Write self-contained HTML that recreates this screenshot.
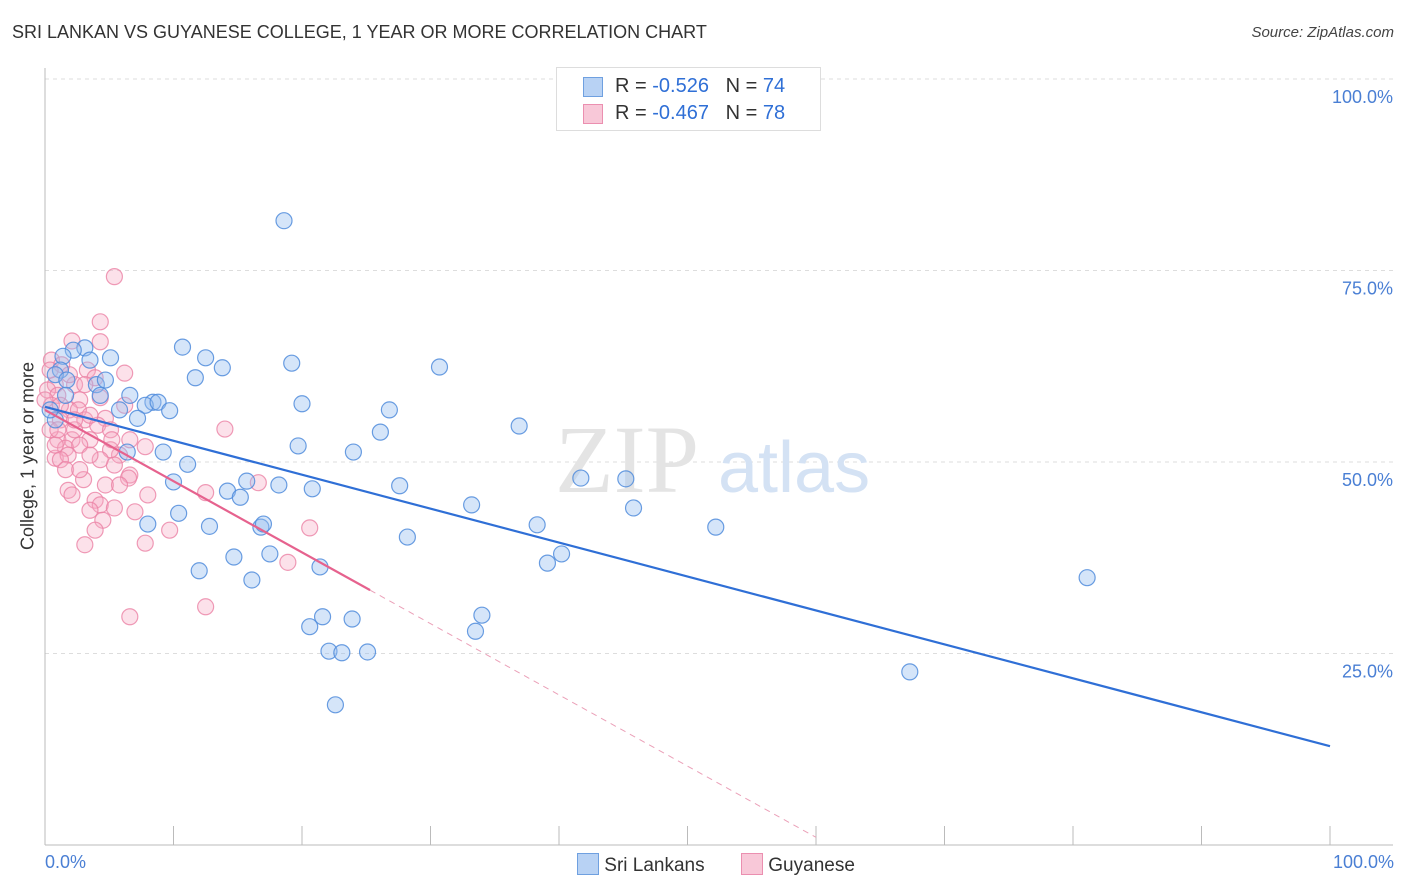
<!DOCTYPE html>
<html><head><meta charset="utf-8"><style>
body{margin:0;background:#fff;font-family:"Liberation Sans",sans-serif}
#wrap{position:relative;width:1406px;height:892px;overflow:hidden}
.t{position:absolute;white-space:nowrap}
</style></head><body>
<div id="wrap">
<div class="t" style="left:12px;top:22px;font-size:18px;color:#333">SRI LANKAN VS GUYANESE COLLEGE, 1 YEAR OR MORE CORRELATION CHART</div>
<div class="t" style="right:12px;top:24px;font-size:15px;color:#444;font-style:italic">Source: ZipAtlas.com</div>
<svg id="svg" width="1406" height="892" style="position:absolute;left:0;top:0"></svg>
</div>
<script>
const blueX=[18.6,10.7,12.5,19.2,13.8,11.7,30.7,5.1,3.1,2.2,1.4,3.5,1.2,0.8,1.7,4.0,4.7,6.6,4.3,8.4,7.8,8.8,9.7,5.8,7.2,20.0,26.8,26.1,36.9,19.7,24.0,9.2,6.4,11.1,10.0,14.2,15.2,15.7,18.2,20.8,27.6,41.7,45.2,33.2,45.8,38.3,52.2,8.0,10.4,12.8,16.8,17.0,28.2,14.7,17.5,40.2,39.1,12.0,16.1,21.4,81.1,21.6,23.9,34.0,20.6,33.5,22.1,23.1,25.1,67.3,22.6,0.8,0.4,1.6];
const blueY=[81.5,65.0,63.6,62.9,62.3,61.0,62.4,63.6,64.9,64.6,63.8,63.3,62.0,61.4,60.7,60.1,60.7,58.7,58.7,57.8,57.4,57.8,56.7,56.8,55.7,57.6,56.8,53.9,54.7,52.1,51.3,51.3,51.3,49.7,47.4,46.2,45.4,47.5,47.0,46.5,46.9,47.9,47.8,44.4,44.0,41.8,41.5,41.9,43.3,41.6,41.5,41.9,40.2,37.6,38.0,38.0,36.8,35.8,34.6,36.3,34.9,29.8,29.5,30.0,28.5,27.9,25.3,25.1,25.2,22.6,18.3,55.5,56.8,58.7];
const pinkX=[5.4,4.3,2.1,4.3,0.5,1.3,3.3,6.2,0.8,2.3,3.9,0.2,1.0,2.7,4.3,0.5,1.9,2.6,4.7,6.2,1.2,3.1,4.1,5.1,14.0,1.0,2.1,3.5,1.6,2.7,7.8,5.8,0.8,1.8,5.4,6.6,6.5,16.6,8.0,12.5,3.0,1.8,2.1,3.9,4.3,5.4,3.5,7.0,4.5,9.7,20.6,3.9,3.1,7.8,18.9,12.5,6.6,1.2,0.4,2.3,3.5,5.1,1.6,4.7,5.8,0.8,4.3,2.7,0.0,1.2,5.2,1.9,3.1,1.0,3.5,6.6,0.4,2.3];
const pinkY=[74.2,68.3,65.8,65.7,63.3,62.7,62.0,61.6,60.1,60.1,61.0,59.4,58.7,58.1,58.4,57.4,56.8,56.8,55.7,57.4,55.5,55.5,54.8,54.2,54.3,52.9,52.9,52.9,51.8,52.2,52.0,50.9,50.5,50.9,49.6,48.3,47.9,47.3,45.7,46.0,47.7,46.3,45.7,45.0,44.4,44.0,43.7,43.5,42.4,41.1,41.4,41.1,39.2,39.4,36.9,31.1,29.8,50.3,54.2,54.2,56.1,51.6,49.0,47.0,47.0,52.2,50.3,49.0,58.1,57.4,52.9,61.4,60.1,54.2,50.9,52.9,62.0,55.5];
const blueTrend=[57.2,12.9];
const pinkTrend=[56.8,-0.93,25.3,60];
const yTicks=[25,50,75,100];
const NS="http://www.w3.org/2000/svg";
const svg=document.getElementById('svg');
const X=v=>45+v*12.85, Y=v=>845-v*7.66;
function mk(t,a,name){const e=document.createElementNS(NS,t);for(const k in a)e.setAttribute(k,a[k]);


svg.appendChild(e);return e;}
yTicks.forEach(v=>{mk('line',{x1:45,x2:1393,y1:Y(v),y2:Y(v),stroke:'#ddd','stroke-dasharray':'4,4'},'gridline');
const t=mk('text',{x:1393,y:Y(v)+24,'text-anchor':'end','font-size':18,fill:'#4a7fd4','font-family':'Liberation Sans'},'y-tick-label');t.textContent=v.toFixed(1)+'%';});
mk('line',{x1:45,x2:45,y1:68,y2:845,stroke:'#bbb'},'y-axis');
mk('line',{x1:45,x2:1393,y1:845,y2:845,stroke:'#bbb'},'x-axis');
for(let i=0;i<=10;i++)mk('line',{x1:X(i*10),x2:X(i*10),y1:826,y2:845,stroke:'#bbb'},'x-tick');
const w1=mk('text',{x:555,y:492,'font-size':96,fill:'#e4e4e4','font-family':'Liberation Serif'},'watermark-zip');w1.textContent='ZIP';
const w2=mk('text',{x:718,y:492,'font-size':72,fill:'#d4e2f4','font-family':'Liberation Sans'},'watermark-atlas');w2.textContent='atlas';
pinkX.forEach((v,i)=>mk('circle',{cx:X(v),cy:Y(pinkY[i]),r:8,fill:'rgba(245,170,195,0.35)',stroke:'rgba(235,130,165,0.8)','stroke-width':1.2},'guyanese-point'));
blueX.forEach((v,i)=>mk('circle',{cx:X(v),cy:Y(blueY[i]),r:8,fill:'rgba(150,190,240,0.4)',stroke:'rgba(80,140,220,0.85)','stroke-width':1.2},'sri-lankan-point'));
mk('line',{x1:X(0),y1:Y(blueTrend[0]),x2:X(100),y2:Y(blueTrend[1]),stroke:'#2f6fd6','stroke-width':2.2},'sri-lankan-trendline');
const pe=pinkTrend[0]+pinkTrend[1]*pinkTrend[2], pd=pinkTrend[0]+pinkTrend[1]*pinkTrend[3];
mk('line',{x1:X(0),y1:Y(pinkTrend[0]),x2:X(pinkTrend[2]),y2:Y(pe),stroke:'#e6628e','stroke-width':2.2},'guyanese-trendline');
mk('line',{x1:X(pinkTrend[2]),y1:Y(pe),x2:X(pinkTrend[3]),y2:Y(pd),stroke:'#eba0b8','stroke-width':1,'stroke-dasharray':'6,5'},'guyanese-trendline-extension');
</script>
<div class="t" style="left:45px;top:852px;font-size:18px;color:#4a7fd4">0.0%</div>
<div class="t" style="right:12px;top:852px;font-size:18px;color:#4a7fd4">100.0%</div>
<div class="t" style="left:28px;top:456px;font-size:18px;color:#333;transform:translate(-50%,-50%) rotate(-90deg)">College, 1 year or more</div>
<div style="position:absolute;left:556px;top:67px;width:263px;height:62px;border:1px solid #ddd;background:#fff;font-size:20px;color:#333">
<div style="position:absolute;left:26px;top:9px;width:18px;height:18px;background:#b8d2f4;border:1px solid #6fa0e0"></div>
<div class="t" style="left:58px;top:7px">R = <span style="color:#2f6fd6">-0.526</span>&nbsp;&nbsp;&nbsp;N = <span style="color:#2f6fd6">74</span></div>
<div style="position:absolute;left:26px;top:36px;width:18px;height:18px;background:#f8c8d8;border:1px solid #eb8fb0"></div>
<div class="t" style="left:58px;top:34px">R = <span style="color:#2f6fd6">-0.467</span>&nbsp;&nbsp;&nbsp;N = <span style="color:#2f6fd6">78</span></div>
</div>
<div style="position:absolute;left:577px;top:853px;font-size:19px;color:#333">
<span style="display:inline-block;width:20px;height:20px;background:#b8d2f4;border:1px solid #6fa0e0;vertical-align:-4px"></span>&nbsp;Sri Lankans</div>
<div style="position:absolute;left:741px;top:853px;font-size:19px;color:#333">
<span style="display:inline-block;width:20px;height:20px;background:#f8c8d8;border:1px solid #eb8fb0;vertical-align:-4px"></span>&nbsp;Guyanese</div>
</body></html>
